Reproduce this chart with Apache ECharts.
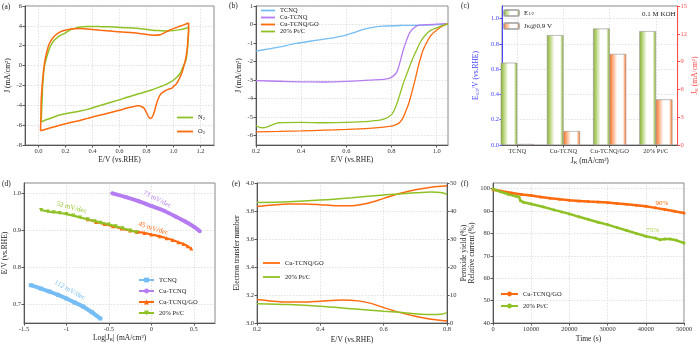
<!DOCTYPE html>
<html>
<head>
<meta charset="utf-8">
<title>ORR panels</title>
<script src="https://cdn.jsdelivr.net/npm/echarts@6.0.0/dist/echarts.min.js"></script>
<style>html,body{margin:0;background:#fff}#chart{width:700px;height:345px}</style>
</head>
<body>
<div id="chart"></div>
<script>
// ---- data ----
// (a) CV loops, E (V) vs J (mA/cm2), in scan order
var cvN2 = [[0.02,-5.66],[0.025,-4.0],[0.032,-1.8],[0.045,0.0],[0.068,1.2],[0.09,2.0],[0.117,2.55],[0.15,2.95],[0.19,3.22],[0.23,3.55],[0.263,3.72],[0.31,3.88],[0.36,3.93],[0.42,3.93],[0.46,3.92],[0.52,3.9],[0.58,3.86],[0.64,3.82],[0.7,3.78],[0.76,3.7],[0.82,3.6],[0.88,3.52],[0.946,3.49],[1.0,3.52],[1.05,3.62],[1.093,3.76],[1.112,3.88],
  [1.112,3.5],[1.108,2.5],[1.102,1.5],[1.093,0.6],[1.075,0.0],[1.06,-0.5],[1.046,-0.85],[1.03,-1.1],[1.01,-1.35],[0.98,-1.65],[0.949,-1.87],[0.9,-2.15],[0.851,-2.4],[0.8,-2.62],[0.75,-2.82],[0.7,-3.02],[0.65,-3.22],[0.607,-3.41],[0.55,-3.65],[0.5,-3.85],[0.45,-4.05],[0.364,-4.41],[0.3,-4.6],[0.217,-4.8],[0.15,-5.0],[0.12,-5.15],[0.08,-5.35],[0.04,-5.55],[0.02,-5.66]];
var cvO2 = [[0.015,-6.56],[0.018,-5.0],[0.02,-3.48],[0.03,-1.5],[0.044,0.2],[0.06,1.3],[0.08,2.2],[0.11,2.85],[0.14,3.22],[0.175,3.48],[0.215,3.62],[0.26,3.72],[0.31,3.74],[0.38,3.66],[0.46,3.55],[0.55,3.45],[0.62,3.38],[0.7,3.3],[0.78,3.17],[0.85,3.05],[0.9,3.1],[0.946,3.39],[0.98,3.62],[1.02,3.82],[1.05,3.98],[1.08,4.12],[1.112,4.29],
  [1.112,3.8],[1.108,2.8],[1.1,1.5],[1.092,0.8],[1.085,0.37],[1.072,-0.3],[1.06,-0.8],[1.04,-1.4],[1.02,-1.87],[1.0,-2.1],[0.985,-2.3],[0.96,-2.4],[0.937,-2.54],[0.915,-2.75],[0.9,-2.97],[0.887,-3.35],[0.875,-3.81],[0.862,-4.45],[0.85,-4.98],[0.838,-5.25],[0.827,-5.32],[0.815,-5.15],[0.797,-4.65],[0.782,-4.3],[0.766,-4.15],[0.745,-4.05],[0.73,-4.05],[0.7,-4.15],[0.65,-4.3],[0.607,-4.48],[0.5,-4.85],[0.43,-5.08],[0.364,-5.32],[0.3,-5.55],[0.2,-5.85],[0.12,-6.16],[0.06,-6.38],[0.015,-6.56]];

// (b) LSV
var lsvTCNQ = [[0.2,-1.43],[0.25,-1.33],[0.3,-1.22],[0.378,-1.02],[0.45,-0.88],[0.526,-0.75],[0.6,-0.57],[0.644,-0.39],[0.68,-0.25],[0.704,-0.18],[0.763,-0.09],[0.85,-0.05],[0.92,-0.04],[1.0,-0.01],[1.05,0.05]];
var lsvCu = [[0.2,-3.03],[0.3,-3.06],[0.4,-3.09],[0.5,-3.1],[0.6,-3.07],[0.7,-3.0],[0.79,-2.9],[0.82,-2.63],[0.83,-2.35],[0.844,-1.73],[0.855,-1.25],[0.867,-0.84],[0.878,-0.5],[0.889,-0.3],[0.9,-0.17],[0.918,-0.05],[0.95,-0.01],[1.0,0.02],[1.05,0.05]];
var lsvGO = [[0.2,-5.79],[0.3,-5.77],[0.4,-5.74],[0.5,-5.7],[0.6,-5.66],[0.7,-5.6],[0.79,-5.5],[0.82,-5.4],[0.837,-5.27],[0.85,-5.05],[0.86,-4.77],[0.875,-4.3],[0.889,-3.7],[0.905,-2.95],[0.918,-2.27],[0.93,-1.75],[0.94,-1.37],[0.955,-0.98],[0.97,-0.66],[0.985,-0.45],[1.0,-0.3],[1.02,-0.12],[1.05,0.05]];
var lsvPt = [[0.2,-5.45],[0.215,-5.55],[0.23,-5.57],[0.25,-5.52],[0.274,-5.4],[0.3,-5.3],[0.4,-5.28],[0.5,-5.3],[0.6,-5.28],[0.7,-5.22],[0.763,-5.12],[0.8,-4.86],[0.82,-4.4],[0.835,-3.85],[0.85,-3.25],[0.865,-2.75],[0.88,-2.27],[0.895,-1.8],[0.91,-1.4],[0.93,-0.9],[0.955,-0.5],[0.975,-0.3],[1.0,-0.18],[1.025,-0.06],[1.05,0.04]];

// (c) bars
var catC = ['TCNQ', 'Cu-TCNQ', 'Cu-TCNQ/GO', '20% Pt/C'];
var e12 = [0.651, 0.869, 0.921, 0.901];
var jk09 = [0.1, 1.5, 9.82, 4.92];

// (d) Tafel
var tafTCNQ = [[-1.42,0.752],[-1.3,0.743],[-1.2,0.735],[-1.1,0.726],[-1.0,0.716],[-0.9,0.705],[-0.8,0.694],[-0.7,0.679],[-0.6,0.662]];
var tafCu = [[-0.46,1.0],[-0.3,0.99],[-0.15,0.979],[0,0.966],[0.15,0.953],[0.29,0.937],[0.4,0.924],[0.5,0.91],[0.57,0.898]];
var tafGO = [[-0.75,0.93],[-0.65,0.923],[-0.55,0.917],[-0.45,0.911],[-0.35,0.905],[-0.25,0.9],[-0.17,0.896],[-0.08,0.893],[0,0.889],[0.1,0.884],[0.18,0.879],[0.25,0.874],[0.32,0.868],[0.38,0.863],[0.43,0.857],[0.47,0.851]];
var tafPt = [[-1.3,0.955],[-1.22,0.951],[-1.15,0.949],[-1.08,0.947],[-1.0,0.944],[-0.92,0.94],[-0.84,0.935],[-0.75,0.93],[-0.67,0.925],[-0.6,0.921],[-0.5,0.916],[-0.42,0.911],[-0.34,0.906],[-0.25,0.9],[-0.17,0.895]];
var tafText = ['112 mV/dec', '73 mV/dec', '45 mV/dec', '52 mV/dec'];
var tafAt = [[-0.96,0.739], [0.07,0.984], [0.023,0.905], [-0.94,0.962]];

// (e) RRDE: electron number (left) and peroxide yield (right)
var nGO = [[0.2,3.833],[0.25,3.843],[0.3,3.85],[0.35,3.85],[0.4,3.845],[0.45,3.838],[0.5,3.838],[0.55,3.855],[0.6,3.89],[0.65,3.925],[0.7,3.952],[0.75,3.97],[0.8,3.98]];
var nPt = [[0.2,3.86],[0.3,3.866],[0.4,3.878],[0.5,3.895],[0.6,3.915],[0.65,3.922],[0.7,3.93],[0.75,3.935],[0.78,3.932],[0.8,3.92]];
var hGO = [[0.2,8.4],[0.25,7.8],[0.3,7.5],[0.35,7.5],[0.4,7.8],[0.47,8.2],[0.52,7.9],[0.56,7.0],[0.6,5.5],[0.65,3.8],[0.7,2.4],[0.75,1.3],[0.8,0.7]];
var hPt = [[0.2,6.9],[0.3,6.6],[0.4,6.0],[0.5,5.1],[0.6,4.2],[0.65,3.8],[0.7,3.3],[0.75,3.0],[0.78,3.1],[0.8,3.7]];

// (f) stability
var itGO = [[0,99.5],[2000,98.9],[5000,98.0],[7500,97.4],[10000,96.9],[12500,96.3],[15000,95.7],[17500,95.2],[20000,94.8],[22500,94.5],[25000,94.2],[27500,94.0],[30000,93.8],[32500,93.4],[35000,93.0],[37500,92.6],[40000,92.1],[42500,91.4],[45000,90.7],[47500,89.9],[50000,89.1]];
var itPt = [[0,99.8],[2000,98.6],[4000,97.5],[6000,96.6],[6800,96.3],[7200,94.6],[8000,93.9],[10000,93.1],[13000,91.9],[16000,90.5],[18000,89.6],[20000,88.7],[22500,87.4],[25000,86.2],[27500,85.0],[30000,83.9],[32500,82.6],[35000,81.3],[37500,80.0],[40000,78.7],[42500,77.9],[43700,77.2],[45000,77.5],[46300,77.5],[48000,76.9],[50000,75.7]];
var itText = ['90%', '75%'];
var itAt = [[44200,93.6], [41800,81.3]];

// ---- styling ----
var FONT = '"Liberation Serif", "Times New Roman", serif';
var ORANGE = '#ff6a0e', GREEN = '#8fc126', BLUE = '#76bdf4', PURPLE = '#b57cf2';
var RICH = {s: {fontSize: 5, verticalAlign: 'bottom', fontFamily: FONT}};
var LABELS = {
  'a#N2': 'N{s|2}', 'a#O2': 'O{s|2}',
  'c#E': 'E{s|1/2}', 'c#J': 'J{s|K}@0.9 V'
};
function legendText(n) { return LABELS[n] || n.split('#')[1]; }

var chart = echarts.init(document.getElementById('chart'));

function ax(grid, min, max, ticks, dec, name, gap, more) {
  var a = {
    type: 'value', gridIndex: grid, min: min, max: max,
    name: name, nameLocation: 'middle', nameGap: gap,
    nameTextStyle: {fontFamily: FONT, fontSize: 7.5, color: '#222', rich: RICH},
    axisLine: {show: true, onZero: false, lineStyle: {color: '#555', width: 1}},
    axisTick: {show: true, length: 2.5, customValues: ticks, lineStyle: {color: '#555'}},
    axisLabel: {customValues: ticks, margin: 3, fontFamily: FONT, fontSize: 6.5, color: '#333',
      formatter: function (v) { return dec == null ? String(v) : v.toFixed(dec); }},
    splitLine: {show: true, lineStyle: {color: '#d4d4d4', type: [1.5, 1.5], width: 0.7}}
  };
  if (more) {
    for (var k in more) {
      if (typeof more[k] === 'object' && a[k] && !Array.isArray(more[k])) {
        for (var j in more[k]) a[k][j] = more[k][j];
      } else a[k] = more[k];
    }
  }
  return a;
}
function yx(grid, min, max, ticks, dec, name, gap, more) {
  var a = ax(grid, min, max, ticks, dec, name, gap, more);
  a.nameRotate = 90;
  return a;
}
function line(name, xi, yi, data, color, width, extra) {
  var s = {
    type: 'line', name: name, xAxisIndex: xi, yAxisIndex: yi, data: data,
    symbol: 'none', smooth: 0.3, color: color,
    lineStyle: {color: color, width: width}, itemStyle: {color: color}, z: 3
  };
  for (var k in (extra || {})) s[k] = extra[k];
  return s;
}
function legend(names, left, top, iw, gap, size, plain) {
  return {
    data: plain ? names.map(function (n) { return {name: n, icon: 'rect'}; }) : names,
    left: left, top: top, orient: 'vertical', padding: 0,
    itemWidth: iw, itemHeight: plain ? 1.8 : 6, itemGap: gap, textGap: 3, selectedMode: false,
    formatter: legendText,
    textStyle: {fontFamily: FONT, fontSize: size || 6.5, color: '#222', lineHeight: 7,
      rich: {s: {fontSize: 4.5, verticalAlign: 'bottom', fontFamily: FONT}}}
  };
}
function grad(c, light) {
  return new echarts.graphic.LinearGradient(0, 0, 1, 0, [
    {offset: 0, color: c}, {offset: 0.2, color: light}, {offset: 0.45, color: '#ffffff'},
    {offset: 0.8, color: '#ffffff'}, {offset: 0.9, color: light}, {offset: 1, color: c}]);
}

var gridBox = {show: true, borderColor: '#888', borderWidth: 1};
var grids = [
  {left: 25, top: 6, width: 189, height: 139},
  {left: 256, top: 6, width: 192, height: 139},
  {left: 502, top: 6, width: 181, height: 139},
  {left: 24, top: 183, width: 191, height: 140},
  {left: 257, top: 183, width: 190, height: 140},
  {left: 493, top: 183, width: 191, height: 140}
].map(function (g) { return Object.assign({}, gridBox, g); });

var jUnit = 'J (mA/cm²)';
var eUnit = 'E/V (vs.RHE)';
var BLUE_AX = '#4646ff', RED_AX = '#ff4d4d';

var option = {
  animation: false,
  backgroundColor: '#fff',
  grid: grids,
  xAxis: [
    ax(0, -0.1, 1.3, [0, 0.2, 0.4, 0.6, 0.8, 1.0, 1.2], 1, eUnit, 11),
    ax(1, 0.2, 1.05, [0.2, 0.4, 0.6, 0.8, 1.0], 1, eUnit, 11),
    ax(2, 0.67, 4.47, [1, 2, 3, 4], null, 'J{s|K} (mA/cm²)', 12, {
      axisLabel: {customValues: [1, 2, 3, 4], margin: 3, fontFamily: FONT, fontSize: 6.5, color: '#333',
        formatter: function (v) { return catC[Math.round(v) - 1]; }}
    }),
    ax(3, -1.5, 0.75, [-1.5, -1, -0.5, 0, 0.5], null, 'Log|J{s|K}| (mA/cm²)', 11),
    ax(4, 0.2, 0.8, [0.2, 0.4, 0.6, 0.8], 1, eUnit, 13),
    ax(5, 0, 50000, [0, 10000, 20000, 30000, 40000, 50000], 0, 'Time (s)', 12)
  ],
  yAxis: [
    yx(0, -8, 6, [-8, -6, -4, -2, 0, 2, 4, 6], 0, jUnit, 13),
    yx(1, -6.5, 1, [-6, -5, -4, -3, -2, -1, 0, 1], 0, jUnit, 13),
    yx(2, 0, 1.1, [0, 0.2, 0.4, 0.6, 0.8, 1.0], 1, 'E{s|1/2}/V (vs.RHE)', 22, {
      nameTextStyle: {fontFamily: FONT, fontSize: 7.5, color: BLUE_AX, rich: RICH},
      axisLine: {show: true, onZero: false, lineStyle: {color: BLUE_AX, width: 1}},
      axisTick: {show: true, length: 2.5, customValues: [0, 0.2, 0.4, 0.6, 0.8, 1.0], lineStyle: {color: BLUE_AX}},
      axisLabel: {customValues: [0, 0.2, 0.4, 0.6, 0.8, 1.0], margin: 3, fontFamily: FONT, fontSize: 6.5, color: BLUE_AX,
        formatter: function (v) { return v.toFixed(1); }}
    }),
    yx(2, 0, 15, [0, 3, 6, 9, 12, 15], 0, 'J{s|K} (mA/cm²)', 10, {
      position: 'right',
      nameTextStyle: {fontFamily: FONT, fontSize: 7.5, color: RED_AX, rich: RICH},
      axisLine: {show: true, onZero: false, lineStyle: {color: RED_AX, width: 1}},
      axisTick: {show: true, length: 2.5, customValues: [0, 3, 6, 9, 12, 15], lineStyle: {color: RED_AX}},
      axisLabel: {customValues: [0, 3, 6, 9, 12, 15], margin: 3, fontFamily: FONT, fontSize: 6.5, color: RED_AX,
        formatter: function (v) { return v.toFixed(0); }},
      splitLine: {show: false}
    }),
    yx(3, 0.65, 1.028, [0.7, 0.8, 0.9, 1.0], 1, eUnit, 14),
    yx(4, 3.0, 4.0, [3.0, 3.2, 3.4, 3.6, 3.8, 4.0], 1, 'Electron transfer number', 16),
    yx(4, 0, 50, [0, 10, 20, 30, 40, 50], 0, 'Peroxide yield (%)', 13, {position: 'right', splitLine: {show: false}}),
    yx(5, 40, 102.5, [40, 50, 60, 70, 80, 90, 100], 0, 'Relative current (%)', 14)
  ],
  legend: [
    legend(['a#N2', 'a#O2'], 177, 114, 16, 7, 6.5, true),
    Object.assign(legend(['b#TCNQ', 'b#Cu-TCNQ', 'b#Cu-TCNQ/GO', 'b#20% Pt/C'], 261, 7, 14, 0, 6.5, true),
      {textStyle: {fontFamily: FONT, fontSize: 6.5, color: '#222', lineHeight: 6.7}}),
    legend(['c#E', 'c#J'], 503, 9, 15, 5, 7),
    legend(['d#TCNQ', 'd#Cu-TCNQ', 'd#Cu-TCNQ/GO', 'd#20% Pt/C'], 138, 276.5, 15, 4, 6.5),
    legend(['e#Cu-TCNQ/GO', 'e#20% Pt/C'], 263, 259.5, 17, 7, 6.5, true),
    legend(['f#Cu-TCNQ/GO', 'f#20% Pt/C'], 500, 290.5, 17, 5, 6.5)
  ],
  series: [
    line('a#N2', 0, 0, cvN2, GREEN, 1.5),
    line('a#O2', 0, 0, cvO2, ORANGE, 1.5),

    line('b#TCNQ', 1, 1, lsvTCNQ, BLUE, 1.3),
    line('b#Cu-TCNQ', 1, 1, lsvCu, PURPLE, 1.3),
    line('b#Cu-TCNQ/GO', 1, 1, lsvGO, ORANGE, 1.3),
    line('b#20% Pt/C', 1, 1, lsvPt, GREEN, 1.3),

    {type: 'bar', name: 'c#E', xAxisIndex: 2, yAxisIndex: 2, barWidth: 16.5, barGap: '0%',
      data: catC.map(function (c, i) { return [i + 1, e12[i]]; }),
      itemStyle: {color: grad('#88b030', '#bcd683'), borderColor: 'rgba(150,150,150,0.7)', borderWidth: 0.5}},
    {type: 'bar', name: 'c#J', xAxisIndex: 2, yAxisIndex: 3, barWidth: 16.5, barGap: '0%',
      data: catC.map(function (c, i) { return [i + 1, jk09[i]]; }),
      itemStyle: {color: grad('#ff7020', '#ffb184'), borderColor: 'rgba(150,150,150,0.7)', borderWidth: 0.5}},

    line('d#TCNQ', 3, 4, tafTCNQ, BLUE, 4, {symbol: 'rect', showSymbol: true, symbolSize: 4, smooth: 0.2}),
    line('d#Cu-TCNQ', 3, 4, tafCu, PURPLE, 4, {symbol: 'circle', showSymbol: true, symbolSize: 4, smooth: 0.2}),
    line('d#Cu-TCNQ/GO', 3, 4, tafGO, ORANGE, 2.2, {symbol: 'triangle', showSymbol: true, symbolSize: 4, smooth: 0.2}),
    line('d#20% Pt/C', 3, 4, tafPt, GREEN, 2.2, {symbol: 'triangle', symbolRotate: 180, showSymbol: true, symbolSize: 4, smooth: 0.2, z: 4}),

    line('e#Cu-TCNQ/GO', 4, 5, nGO, ORANGE, 1.5),
    line('e#20% Pt/C', 4, 5, nPt, GREEN, 1.5),
    line('e#GO-h', 4, 6, hGO, ORANGE, 1.5),
    line('e#Pt-h', 4, 6, hPt, GREEN, 1.5),

    line('f#Cu-TCNQ/GO', 5, 7, itGO, ORANGE, 2.5, {symbol: 'circle', showSymbol: true, symbolSize: 3, smooth: false}),
    line('f#20% Pt/C', 5, 7, itPt, GREEN, 2.5, {symbol: 'circle', showSymbol: true, symbolSize: 3, smooth: false})
  ]
};
chart.setOption(option);

// panel letters and annotations
var txt = function (t, x, y, color, size, rot, align) {
  return {type: 'text', x: x, y: y, rotation: (rot || 0) * Math.PI / 180, z: 10,
    style: {text: t, fill: color || '#222', fontFamily: FONT, fontSize: size || 7.5,
      align: align || 'left', verticalAlign: 'middle'}};
};
var g = [
  txt('(a)', 2, 7), txt('(b)', 229, 6), txt('(c)', 461, 6),
  txt('(d)', 2, 184), txt('(e)', 232, 184), txt('(f)', 461, 184),
  txt('0.1 M KOH', 642, 14, '#222', 7)
];
var tafColor = [BLUE, PURPLE, ORANGE, GREEN];
var tafRot = [-29, -27, -18, -15];
tafText.forEach(function (t, i) {
  var p = chart.convertToPixel({gridIndex: 3}, tafAt[i]);
  g.push(txt(t, p[0], p[1], tafColor[i], 7, tafRot[i], 'center'));
});
var itColor = [ORANGE, '#a6d24a'];
itText.forEach(function (t, i) {
  var p = chart.convertToPixel({gridIndex: 5}, itAt[i]);
  g.push(txt(t, p[0], p[1], itColor[i], 7, 0, 'center'));
});
chart.setOption({graphic: g});
</script>
</body>
</html>
